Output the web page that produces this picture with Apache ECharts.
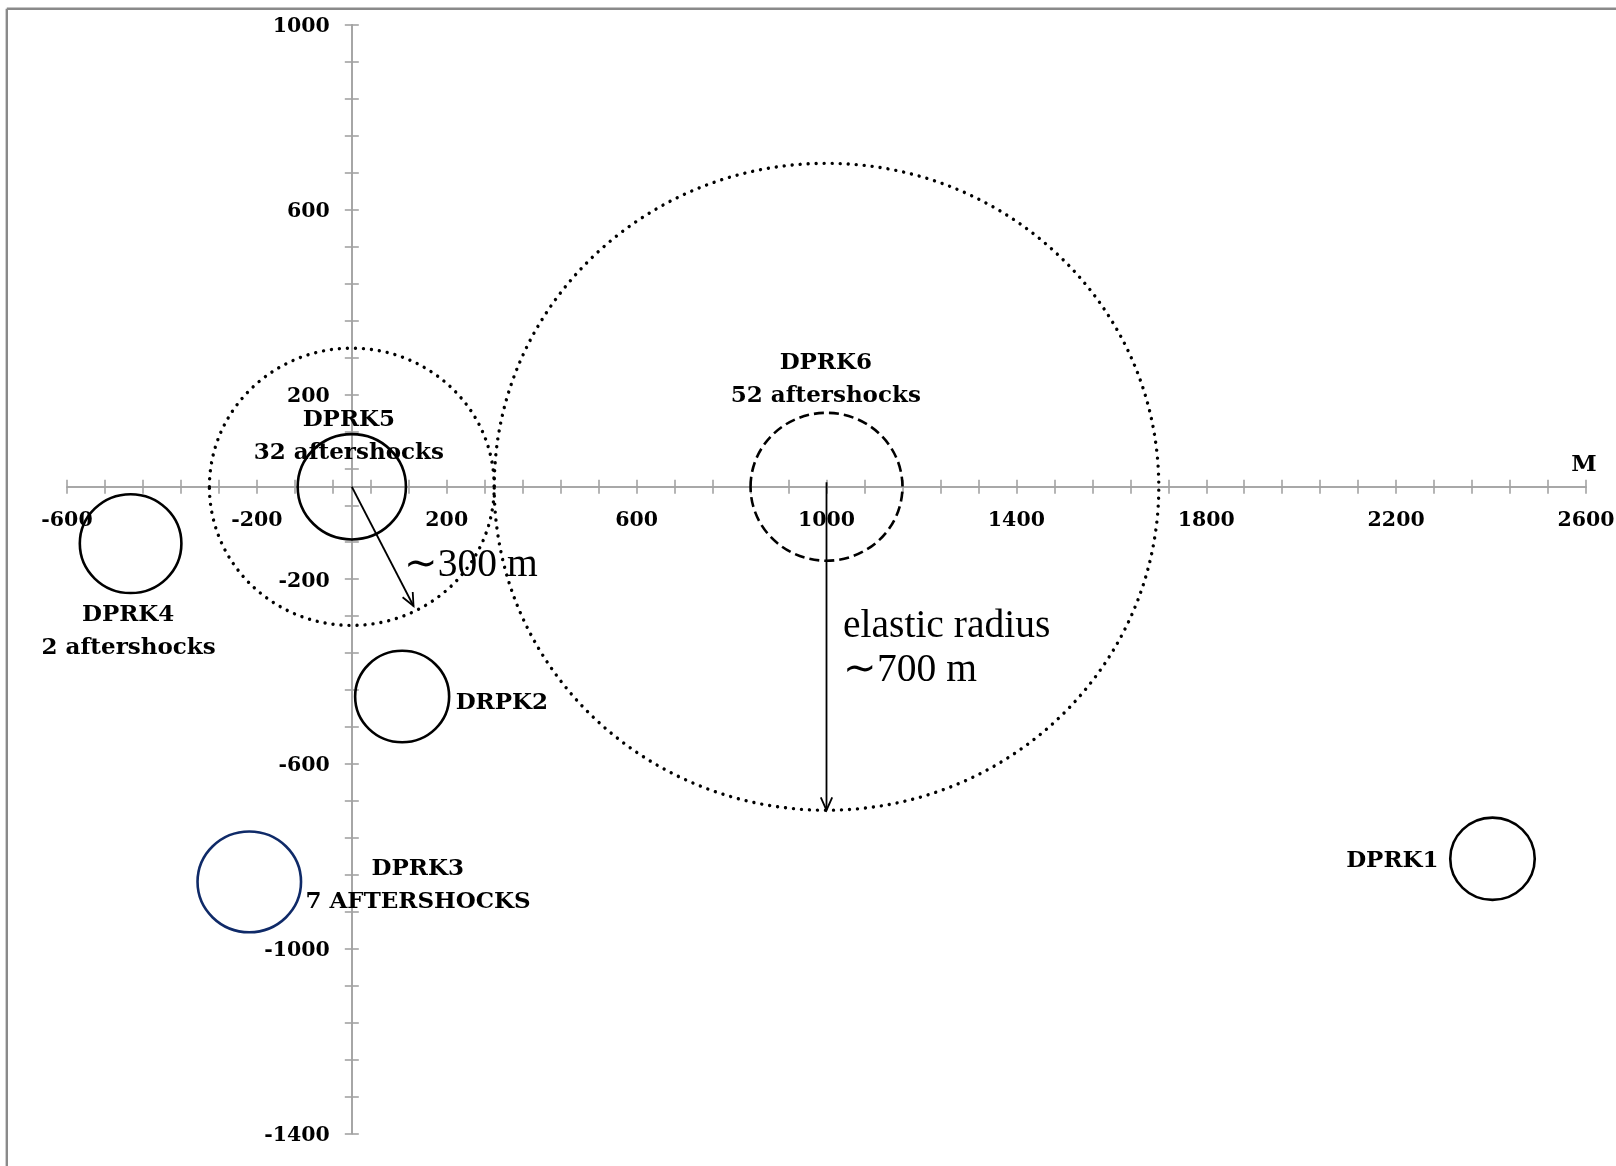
<!DOCTYPE html>
<html>
<head>
<meta charset="utf-8">
<title>DPRK test sites and aftershocks</title>
<script src="https://cdn.jsdelivr.net/npm/echarts@6/dist/echarts.min.js"></script>
<style>
  html, body { margin: 0; padding: 0; background: #fff; }
  #chart { width: 1616px; height: 1166px; }
</style>
</head>
<body>
<div id="chart"></div>
<script>
// Axis ranges and labelled ticks (metres)
const xMin = -600, xMax = 2600;
const yMin = -1400, yMax = 1000;
const tickStep = 80;
const xTickLabels = [-600, -200, 200, 600, 1000, 1400, 1800, 2200, 2600];
const yTickLabels = [1000, 600, 200, -200, -600, -1000, -1400];

// Explosion sites: centre (m) and drawn radius (m)
const siteNames = ['DPRK1', 'DRPK2', 'DPRK3', 'DPRK4', 'DPRK5', 'DPRK6'];
const siteNotes = ['', '', '7 AFTERSHOCKS', '2 aftershocks', '32 aftershocks', '52 aftershocks'];
const siteX = [2403, 106, -216, -466, 0, 1000];
const siteY = [-805, -454, -855, -123, 0, 0];
const siteRadius = [89, 99, 109, 107, 114, 160];

// Elastic radius zones around DPRK5 and DPRK6
const zoneX = [0, 1000];
const zoneY = [0, 0];
const zoneRadius = [300, 700];

// Radius arrows: start and end points (m)
const arrowFromX = [0, 1000];
const arrowFromY = [0, 10];
const arrowToX = [130, 1000];
const arrowToY = [-258, -700];
const arrowTexts = [['\u223C300 m'], ['elastic radius', '\u223C700 m']];

// ---- drawing styles ----
const labelFont = { fontFamily: 'DejaVu Serif', fontWeight: 'bold', fontSize: 23, fill: '#000' };
const tickFont = { fontFamily: 'DejaVu Serif', fontWeight: 'bold', fontSize: 20.5, fill: '#000' };
const noteFont = { fontFamily: 'Liberation Serif', fontWeight: 'normal', fontSize: 39.5, fill: '#000' };

// per-site stroke style and text placement (pixel offsets from the centre)
const siteStyle = [
  { stroke: '#000', dash: null, lines: [{ dx: -54, dy: 2.5, align: 'right' }] },
  { stroke: '#000', dash: null, lines: [{ dx: 53.5, dy: 6.5, align: 'left' }] },
  { stroke: '#0f2a68', dash: null, lines: [{ dx: 168.5, dy: -13, align: 'center' }, { dx: 168.8, dy: 20, align: 'center' }] },
  { stroke: '#000', dash: null, lines: [{ dx: -2.5, dy: 71.5, align: 'center' }, { dx: -2, dy: 104.5, align: 'center' }] },
  { stroke: '#000', dash: null, lines: [{ dx: -3, dy: -66.5, align: 'center' }, { dx: -3, dy: -34, align: 'center' }] },
  { stroke: '#000', dash: [10, 5], lines: [{ dx: -0.7, dy: -123.5, align: 'center' }, { dx: -0.7, dy: -90.5, align: 'center' }] }
];
const arrowTextPos = [
  [{ dx: 52, dy: 79 }],
  [{ dx: 16.5, dy: 140 }, { dx: 16.5, dy: 184 }]
];

const axisColor = '#a3a3a3';

function tickValues(min, max) {
  const out = [];
  for (let v = min; v <= max + 1e-9; v += tickStep) out.push(v);
  return out;
}

// Axis line + crossing ticks: one axis draws ticks outward, its twin inward.
function makeAxis(dim, inside) {
  const isX = dim === 'x';
  const min = isX ? xMin : yMin;
  const max = isX ? xMax : yMax;
  return {
    type: 'value',
    min: min,
    max: max,
    interval: tickStep,
    position: isX ? 'bottom' : 'left',
    splitLine: { show: false },
    axisLine: { show: true, onZero: true, onZeroAxisIndex: 0, lineStyle: { color: axisColor, width: 1.6 } },
    axisTick: {
      show: true, inside: inside, length: 7,
      customValues: tickValues(min, max),
      lineStyle: { color: axisColor, width: 1.6 }
    },
    axisLabel: { show: false },
    z: 1
  };
}

// Tick labels sit next to the axes that cross at the origin
function renderXTick(params, api) {
  const p = api.coord([api.value(0), 0]);
  return { type: 'text', style: Object.assign({ text: String(api.value(0)), x: p[0], y: p[1] + 34, align: 'center', verticalAlign: 'middle' }, tickFont) };
}
function renderYTick(params, api) {
  const p = api.coord([0, api.value(1)]);
  return { type: 'text', style: Object.assign({ text: String(api.value(1)), x: p[0] - 22, y: p[1] + 2, align: 'right', verticalAlign: 'middle' }, tickFont) };
}

function renderSite(params, api) {
  const i = api.value(3);
  const c = api.coord([api.value(0), api.value(1)]);
  const r = api.value(2);
  const rx = api.size([r, 0])[0];
  const ry = api.size([0, r])[1];
  const st = siteStyle[i];
  const children = [{
    type: 'ellipse',
    shape: { cx: c[0], cy: c[1], rx: rx, ry: ry },
    style: { fill: 'none', stroke: st.stroke, lineWidth: 2.6, lineDash: st.dash }
  }];
  const texts = [siteNames[i], siteNotes[i]].filter(function (t) { return t; });
  texts.forEach(function (t, k) {
    const p = st.lines[k];
    children.push({
      type: 'text',
      style: Object.assign({ text: t, x: c[0] + p.dx, y: c[1] + p.dy, align: p.align, verticalAlign: 'middle' }, labelFont)
    });
  });
  return { type: 'group', children: children };
}

function renderZone(params, api) {
  const c = api.coord([api.value(0), api.value(1)]);
  const r = api.value(2);
  return {
    type: 'ellipse',
    shape: { cx: c[0], cy: c[1], rx: api.size([r, 0])[0], ry: api.size([0, r])[1] },
    style: { fill: 'none', stroke: '#000', lineWidth: 3.4, lineDash: [0.01, 8], lineCap: 'round' }
  };
}

function renderArrow(params, api) {
  const i = api.value(4);
  const a = api.coord([api.value(0), api.value(1)]);
  const b = api.coord([api.value(2), api.value(3)]);
  const ang = Math.atan2(b[1] - a[1], b[0] - a[0]);
  const L = 14, spread = 0.42;
  const h1 = [b[0] - L * Math.cos(ang - spread), b[1] - L * Math.sin(ang - spread)];
  const h2 = [b[0] - L * Math.cos(ang + spread), b[1] - L * Math.sin(ang + spread)];
  const children = [
    { type: 'line', shape: { x1: a[0], y1: a[1], x2: b[0], y2: b[1] }, style: { stroke: '#000', lineWidth: 1.8 } },
    { type: 'polyline', shape: { points: [h1, b, h2] }, style: { stroke: '#000', lineWidth: 1.8, fill: 'none' } }
  ];
  const origin = api.coord([zoneX[i], zoneY[i]]);
  arrowTexts[i].forEach(function (t, k) {
    const p = arrowTextPos[i][k];
    children.push({
      type: 'text',
      style: Object.assign({ text: t, x: origin[0] + p.dx, y: origin[1] + p.dy, align: 'left', verticalAlign: 'middle' }, noteFont)
    });
  });
  return { type: 'group', children: children };
}

const siteData = siteNames.map(function (n, i) { return [siteX[i], siteY[i], siteRadius[i], i]; });
const zoneData = zoneX.map(function (x, i) { return [x, zoneY[i], zoneRadius[i]]; });
const arrowData = arrowFromX.map(function (x, i) { return [x, arrowFromY[i], arrowToX[i], arrowToY[i], i]; });
const xTickData = xTickLabels.map(function (v) { return [v, 0]; });
const yTickData = yTickLabels.map(function (v) { return [0, v]; });

const chart = echarts.init(document.getElementById('chart'), null, { renderer: 'canvas' });
chart.setOption({
  animation: false,
  backgroundColor: '#fff',
  grid: { left: 67, right: 30, top: 24.7, bottom: 32.3, containLabel: false, outerBoundsMode: 'none' },
  xAxis: [makeAxis('x', false), makeAxis('x', true)],
  yAxis: [makeAxis('y', false), makeAxis('y', true)],
  graphic: [
    { type: 'line', shape: { x1: 6.8, y1: 8.7, x2: 1616, y2: 8.7 }, style: { stroke: '#8a8a8a', lineWidth: 2.4 }, silent: true },
    { type: 'line', shape: { x1: 6.8, y1: 8.7, x2: 6.8, y2: 1166 }, style: { stroke: '#8a8a8a', lineWidth: 2.4 }, silent: true },
    {
      type: 'text', x: 1584, y: 465.5, silent: true,
      style: { text: 'M', fontFamily: 'DejaVu Serif', fontWeight: 'bold', fontSize: 23, fill: '#000', align: 'center', verticalAlign: 'middle' }
    }
  ],
  series: [
    { type: 'custom', name: 'xTicks', renderItem: renderXTick, data: xTickData, encode: { x: 0, y: 1 }, clip: false, silent: true },
    { type: 'custom', name: 'yTicks', renderItem: renderYTick, data: yTickData, encode: { x: 0, y: 1 }, clip: false, silent: true },
    { type: 'custom', name: 'zones', renderItem: renderZone, data: zoneData, encode: { x: 0, y: 1 }, clip: false, silent: true },
    { type: 'custom', name: 'sites', renderItem: renderSite, data: siteData, encode: { x: 0, y: 1 }, clip: false, silent: true },
    { type: 'custom', name: 'arrows', renderItem: renderArrow, data: arrowData, encode: { x: [0, 2], y: [1, 3] }, clip: false, silent: true }
  ]
});
</script>
</body>
</html>
